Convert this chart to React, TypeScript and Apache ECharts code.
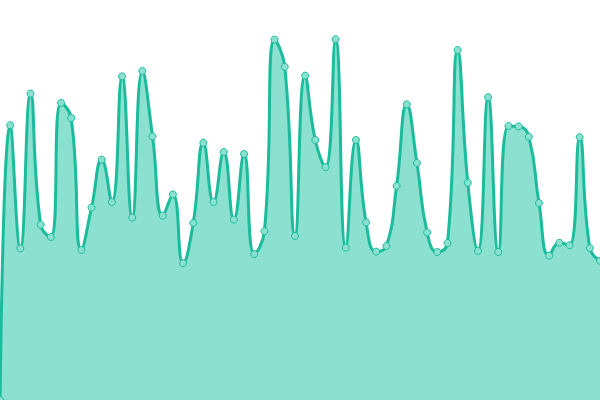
import React, { useEffect, useRef } from "react";
import * as echarts from "echarts";

const categories: string[] = Array.from({ length: 60 }, (_, i) => String(i));
const values: number[] = [
  0, 68.7, 37.9, 76.6, 43.8, 40.75, 74.25, 70.5, 37.5, 48.1,
  60.1, 49.5, 80.9, 45.6, 82.25, 65.9, 46.1, 51.4, 34.2, 44.25,
  64.3, 49.5, 62, 45.1, 61.5, 36.5, 42.2, 90.1, 83.3, 41,
  81.1, 65, 58.2, 90.2, 38.1, 65, 44.4, 37.1, 38.5, 53.5,
  73.9, 59.25, 41.9, 37, 39.25, 87.5, 54.3, 37.3, 75.7, 37,
  68.5, 68.4, 65.8, 49.25, 36.1, 39.3, 38.7, 65.7, 38, 34.8,
];

export default function App() {
  const ref = useRef<HTMLDivElement>(null);
  useEffect(() => {
    if (!ref.current) return;
    const chart = echarts.init(ref.current, undefined, { renderer: "svg" });
    chart.setOption({
      animation: false,
      grid: { left: 0, right: 0, top: 0, bottom: 0 },
      xAxis: {
        type: "category",
        data: categories,
        boundaryGap: false,
        show: false,
      },
      yAxis: { type: "value", min: 0, max: 100, show: false },
      series: [
        {
          type: "line",
          data: values,
          smooth: true,
          symbol: "circle",
          symbolSize: 7,
          showAllSymbol: true,
          lineStyle: { color: "#1abc9c", width: 3 },
          itemStyle: { color: "#8be0cf", borderColor: "#1abc9c", borderWidth: 1 },
          areaStyle: { color: "#8be0cf", opacity: 1 },
        },
      ],
    });
    return () => chart.dispose();
  }, []);
  return (
    <div
      ref={ref}
      style={{ position: "fixed", left: 0, top: 0, width: 600, height: 400 }}
    />
  );
}
